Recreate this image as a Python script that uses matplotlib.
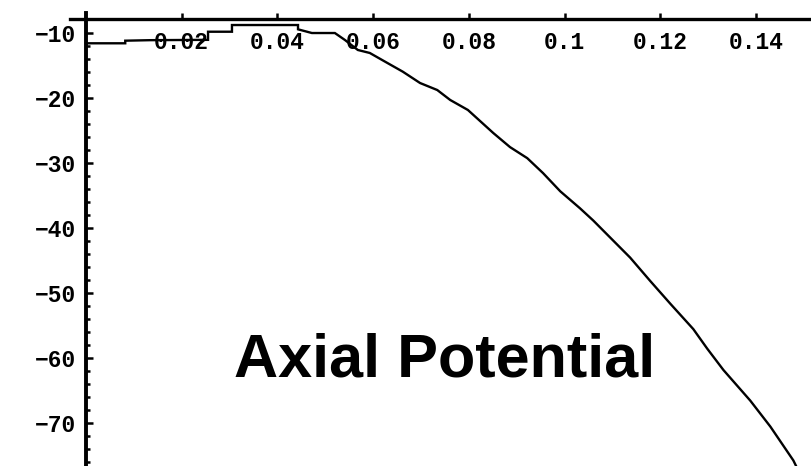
#%% Settings/Imports
import matplotlib
matplotlib.use('Agg')
import matplotlib.pyplot as plt
import numpy as np

#Data - axial position and potential along the axis
x_pos = [0.0, 0.0082, 0.0082, 0.0134, 0.0255, 0.0255, 0.0305, 0.0305, 0.0443, 0.0443,
         0.0472, 0.052, 0.0541, 0.0568, 0.0593, 0.0625, 0.0662, 0.0698, 0.0734, 0.0761,
         0.0798, 0.0851, 0.0886, 0.0922, 0.0955, 0.0991, 0.1032, 0.106, 0.1087, 0.1137,
         0.1179, 0.1221, 0.1269, 0.1298, 0.1332, 0.1388, 0.143, 0.1478, 0.1486]
potential = [-11.63, -11.63, -11.23, -11.15, -11.1, -9.85, -9.85, -8.82, -8.82, -9.48,
             -10.05, -10.05, -11.12, -12.66, -13.12, -14.46, -16.0, -17.74, -18.82, -20.35,
             -21.89, -25.43, -27.6, -29.3, -31.6, -34.4, -37.0, -38.9, -40.9, -44.6,
             -48.2, -51.7, -55.6, -58.6, -61.9, -66.6, -70.6, -75.8, -77.0]

X_TICKS = [0.02, 0.04, 0.06, 0.08, 0.1, 0.12, 0.14]
X_TICK_LABELS = ['0.02', '0.04', '0.06', '0.08', '0.1', '0.12', '0.14']
Y_TICKS = [-10, -20, -30, -40, -50, -60, -70]
Y_TICK_LABELS = ['\u221210', '\u221220', '\u221230', '\u221240', '\u221250', '\u221260', '\u221270']
TITLE = 'Axial Potential'

#Plot settings
X_LIM = (-0.01797, 0.1517)
Y_LIM = (-76.66, -4.97)
X_AXIS_AT = -7.82
TICK_FONT = {'family': 'Liberation Mono', 'weight': 'bold', 'size': 16.5}

fig = plt.figure(figsize=(8.12, 4.66), dpi=100)
ax = fig.add_axes([0, 0, 1, 1])

ax.plot(x_pos, potential, color='black', linewidth=1.7, solid_joinstyle='miter')

ax.set_xlim(X_LIM)
ax.set_ylim(Y_LIM)

#Axes crossing like a Mathematica plot
ax.spines['top'].set_visible(False)
ax.spines['right'].set_visible(False)
ax.spines['left'].set_position(('data', 0))
ax.spines['bottom'].set_position(('data', X_AXIS_AT))
ax.spines['left'].set_linewidth(2.8)
ax.spines['bottom'].set_linewidth(2.4)
ax.spines['left'].set_bounds(Y_LIM[0], -6.9)
ax.spines['bottom'].set_bounds(-0.0034, X_LIM[1])

ax.set_xticks(X_TICKS)
ax.set_xticklabels(X_TICK_LABELS, fontdict=TICK_FONT)
ax.set_yticks(Y_TICKS)
ax.set_yticklabels(Y_TICK_LABELS, fontdict=TICK_FONT)
ax.set_yticks(np.arange(-76, -8, 2), minor=True)

ax.tick_params(axis='x', direction='in', length=4, width=1.8, pad=9)
ax.tick_params(axis='y', which='major', direction='in', length=5, width=1.8, pad=7)
ax.tick_params(axis='y', which='minor', direction='in', length=3, width=1.8)

fig.text(445/812, 1 - 376.7/466, TITLE, ha='center', va='baseline',
         fontfamily='Liberation Sans', fontweight='bold', fontsize=44)

fig.savefig('out.png', dpi=100)
